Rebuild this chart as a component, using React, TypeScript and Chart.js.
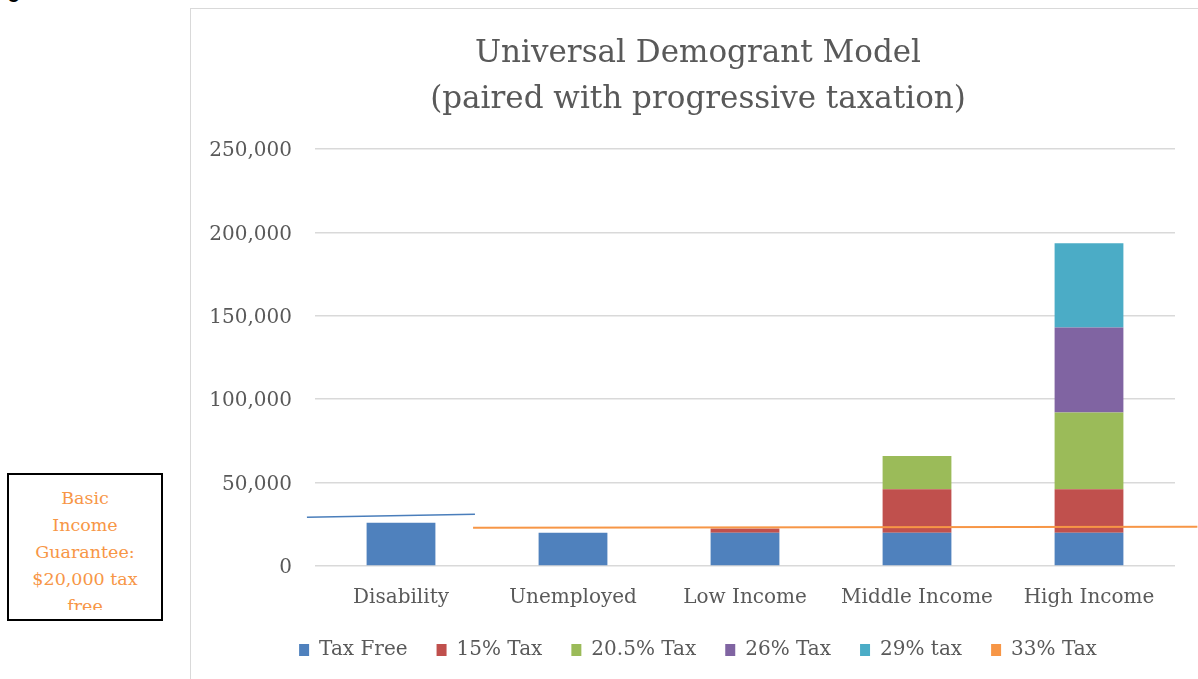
import React, { useEffect, useRef } from "react";
import { Chart, registerables } from "chart.js";

Chart.register(...registerables);

const categories = ["Disability", "Unemployed", "Low Income", "Middle Income", "High Income"];
const taxFree = [26000, 20000, 20000, 20000, 20000];
const tax15 = [0, 0, 2500, 26000, 26000];
const tax205 = [0, 0, 0, 20000, 46000];
const tax26 = [0, 0, 0, 0, 51000];
const tax29 = [0, 0, 0, 0, 50500];
const tax33 = [0, 0, 0, 0, 0];
const seriesNames = ["Tax Free", "15% Tax", "20.5% Tax", "26% Tax", "29% tax", "33% Tax"];
const seriesColors = ["#4f81bd", "#c0504d", "#9bbb59", "#8064a2", "#4bacc6", "#f79646"];
const titleLines = ["Universal Demogrant Model", "(paired with progressive taxation)"];
const yTicks = [0, 50000, 100000, 150000, 200000, 250000];

// Hand-drawn document lines overlaid on the chart (category index, value)
const blueLine = [
  { x: -0.547, y: 29200 },
  { x: 0.43, y: 31000 },
];
const orangeLine = [
  { x: 0.419, y: 22960 },
  { x: 4.63, y: 23560 },
];

const FONT = "'DejaVu Serif', serif";

const overlayPlugin = {
  id: "overlayLines",
  afterDatasetsDraw(chart: any) {
    const { ctx, scales } = chart;
    const xs = scales.x;
    const ys = scales.y;
    const draw = (pts: { x: number; y: number }[], color: string, w: number) => {
      ctx.save();
      ctx.strokeStyle = color;
      ctx.lineWidth = w;
      ctx.beginPath();
      pts.forEach((p, i) => {
        const px = xs.getPixelForValue(p.x);
        const py = ys.getPixelForValue(p.y);
        if (i === 0) ctx.moveTo(px, py);
        else ctx.lineTo(px, py);
      });
      ctx.stroke();
      ctx.restore();
    };
    draw(blueLine, "#4a7ebb", 1.6);
    draw(orangeLine, "#f79646", 2);
  },
};

function BarChart() {
  const ref = useRef<HTMLCanvasElement>(null);
  useEffect(() => {
    if (!ref.current) return;
    const values = [taxFree, tax15, tax205, tax26, tax29, tax33];
    const chart = new Chart(ref.current, {
      type: "bar",
      data: {
        labels: categories,
        datasets: values.map((v, i) => ({
          label: seriesNames[i],
          data: v,
          backgroundColor: seriesColors[i],
          borderWidth: 0,
          barPercentage: 0.4,
          categoryPercentage: 1,
        })),
      },
      options: {
        responsive: false,
        animation: false,
        layout: { padding: { left: 0, right: 0, top: 0, bottom: 9 } },
        plugins: {
          title: {
            display: true,
            text: titleLines,
            color: "#595959",
            font: { family: FONT, size: 31, weight: "normal", lineHeight: 46 / 31 },
            padding: { top: 22, bottom: 26 },
          },
          legend: {
            position: "bottom",
            labels: {
              color: "#595959",
              font: { family: FONT, size: 20 },
              boxWidth: 10,
              boxHeight: 12,
              padding: 29,
            },
          },
          tooltip: { enabled: false },
        },
        scales: {
          x: {
            stacked: true,
            grid: { display: false, drawTicks: false },
            border: { display: false },
            ticks: { color: "#595959", font: { family: FONT, size: 20 }, padding: 20, maxRotation: 0 },
            afterFit: (s: any) => {
              s.height = 45;
            },
          },
          y: {
            stacked: true,
            min: 0,
            max: 250000,
            afterFit: (s: any) => {
              s.width = 124;
            },
            afterBuildTicks: (s: any) => {
              s.ticks = yTicks.map((v) => ({ value: v }));
            },
            grid: { color: "#d9d9d9", lineWidth: 1.5, drawTicks: false },
            border: { display: false },
            ticks: {
              color: "#595959",
              font: { family: FONT, size: 20 },
              padding: 23,
              labelOffset: 2,
              callback: (v: any) => Number(v).toLocaleString("en-US"),
            },
          },
          yRight: {
            position: "right",
            display: true,
            grid: { display: false, drawTicks: false },
            border: { display: false },
            ticks: { display: false },
            afterFit: (s: any) => {
              s.width = 30;
            },
          },
        },
      },
      plugins: [overlayPlugin],
    });
    return () => chart.destroy();
  }, []);
  return <canvas ref={ref} width={1014} height={670} style={{ width: 1014, height: 670, display: "block" }} />;
}

export default function App() {
  return (
    <div
      style={{
        position: "fixed",
        left: 0,
        top: 0,
        width: 1198,
        height: 679,
        overflow: "hidden",
        background: "#fff",
      }}
    >
      <div
        style={{
          position: "absolute",
          left: -10,
          top: -20,
          fontFamily: "'Liberation Sans', sans-serif",
          fontWeight: "bold",
          fontSize: 20,
          color: "#000",
          whiteSpace: "nowrap",
        }}
      >
        Figure 6
      </div>
      <div
        style={{
          position: "absolute",
          left: 190,
          top: 8,
          width: 1030,
          height: 700,
          border: "1px solid #d9d9d9",
          boxSizing: "border-box",
          overflow: "hidden",
        }}
      >
        <BarChart />
      </div>
      <div
        style={{
          position: "absolute",
          left: 7,
          top: 473,
          width: 156,
          height: 148,
          border: "2px solid #000",
          boxSizing: "border-box",
          background: "#fff",
          padding: "10px 21px 0 21px",
        }}
      >
        <div
          style={{
            height: 125,
            overflow: "hidden",
            textAlign: "center",
            color: "#f79646",
            fontFamily: FONT,
            fontSize: 17.5,
            lineHeight: "27px",
          }}
        >
          Basic Income Guarantee: $20,000 tax free
        </div>
      </div>
    </div>
  );
}
